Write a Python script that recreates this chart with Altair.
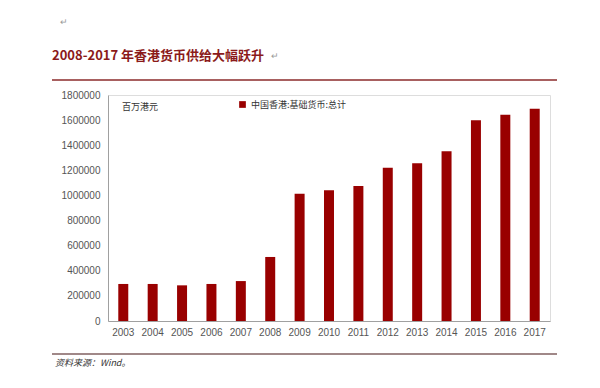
import altair as alt
import pandas as pd

years = [str(y) for y in range(2003, 2018)]
values = [295000, 295000, 284000, 295000, 318000, 510000, 1014000, 1041000,
          1075000, 1221000, 1256000, 1352000, 1598000, 1643000, 1691000]
series_name = "中国香港:基础货币:总计"
unit_label = "百万港元"
title_text = "2008-2017 年香港货币供给大幅跃升"
source_text = "资料来源：Wind。"
y_ticks = list(range(0, 1800001, 200000))

df = pd.DataFrame({"year": years, "value": values, "series": series_name})

W, H = 442, 226
FONT = "Liberation Sans"

bars = alt.Chart(df).mark_bar(color="#990000").encode(
    x=alt.X("year:N", sort=years, title=None,
            scale=alt.Scale(paddingInner=0.66, paddingOuter=0.35),
            axis=alt.Axis(labelAngle=0, ticks=False, labelPadding=6, labelFontSize=10,
                          labelColor="#555555", labelFont=FONT, domainColor="#a0a0a0")),
    y=alt.Y("value:Q", title=None,
            scale=alt.Scale(domain=[0, 1800000], nice=False),
            axis=alt.Axis(values=y_ticks, format="d", ticks=False, labelPadding=8,
                          labelFontSize=10, labelColor="#555555", labelFont=FONT,
                          domainColor="#a0a0a0", grid=False)),
    color=alt.Color("series:N", scale=alt.Scale(range=["#990000"]),
                    legend=alt.Legend(title=None, orient="none", legendX=130, legendY=5,
                                      symbolType="square", symbolSize=45, labelFontSize=9,
                                      labelColor="#333333", labelFont="Noto Sans CJK SC",
                                      padding=0, symbolStrokeWidth=0)),
)

def txt(text, x, y, size, color, font, weight="normal", style="normal", align="left"):
    return alt.Chart(pd.DataFrame({"t": [text]})).mark_text(
        align=align, baseline="middle", fontSize=size, color=color, font=font,
        fontWeight=weight, fontStyle=style
    ).encode(text="t:N", x=alt.value(x), y=alt.value(y))

unit = txt(unit_label, 14, 12, 9, "#333333", "Noto Sans CJK SC")
title = txt(title_text, -56, -39, 13, "#8b1a1a", "Noto Sans CJK SC", weight="bold")
ret1 = txt("↵", -48, -73, 9, "#999999", FONT)
ret2 = txt("↵", 163, -39, 9, "#999999", FONT)
source = txt(source_text, -53, 268, 9, "#333333", "Noto Sans CJK SC", style="italic")

top_rule = alt.Chart(pd.DataFrame({"a": [0]})).mark_rule(color="#a86060", strokeWidth=2).encode(
    x=alt.value(-56), x2=alt.value(449), y=alt.value(-15))
bot_rule = alt.Chart(pd.DataFrame({"a": [0]})).mark_rule(color="#806060", strokeWidth=1.5).encode(
    x=alt.value(-56), x2=alt.value(449), y=alt.value(259))

chart = alt.layer(bars, unit, title, ret1, ret2, source, top_rule, bot_rule).properties(
    width=W, height=H,
    autosize=alt.AutoSizeParams(type="none"),
    padding={"left": 100, "top": 87, "right": 42, "bottom": 59},
).configure_view(stroke=None).configure(background="white")

chart.save("out.html", embed_options={"renderer": "svg", "actions": False})
